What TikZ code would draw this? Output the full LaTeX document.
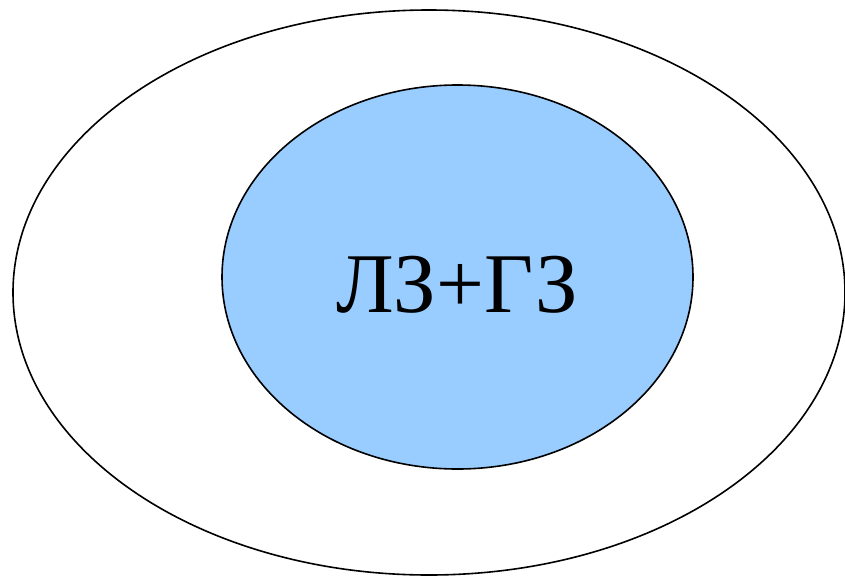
\documentclass[tikz,border=0pt]{standalone}
\usepackage{fontspec}
\setmainfont{Liberation Serif}
\usetikzlibrary{shapes.geometric}
\definecolor{innerblue}{HTML}{99CCFF}
\tikzset{
  ring/.style={draw=black, line width=1.6pt},
  label/.style={font=\fontsize{85}{92}\selectfont, inner sep=0pt, anchor=base}
}
\begin{document}
\begin{tikzpicture}[x=1pt,y=-1pt]
\useasboundingbox (0,0) rectangle (845,576);
\draw[ring, fill=white] (429,292.5) ellipse [x radius=416, y radius=282.5];
\draw[ring, fill=innerblue] (457.5,277) ellipse [x radius=235.5, y radius=192];
\node[label] (t) at (457,312) {ЛЗ+ГЗ};
\end{tikzpicture}
\end{document}
